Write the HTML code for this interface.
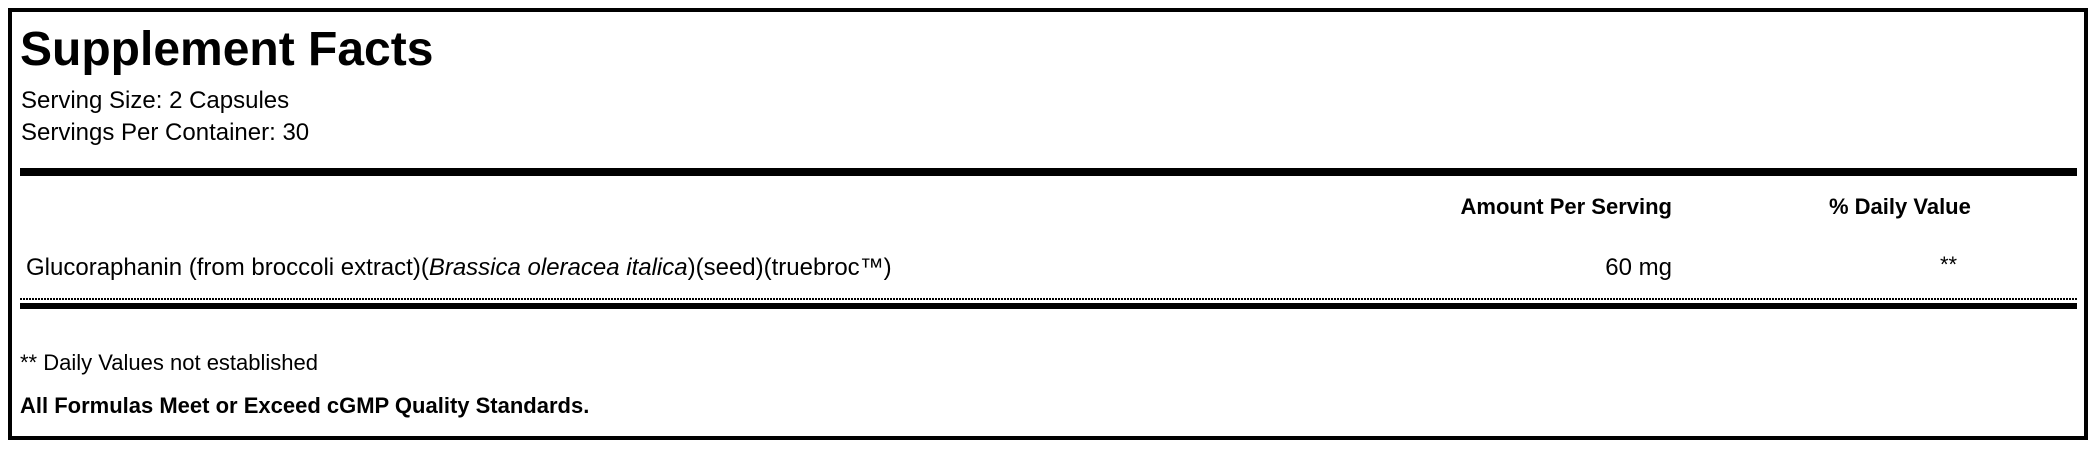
<!DOCTYPE html>
<html><head><meta charset="utf-8"><style>
html,body{margin:0;padding:0;background:#fff;}
body{width:2098px;height:454px;position:relative;overflow:hidden;font-family:"Liberation Sans",Arial,sans-serif;color:#000;}
div{position:absolute;white-space:nowrap;}
</style></head><body>
<div style="left:8px;top:8px;width:2072px;height:424px;border:4px solid #000;"></div>
<div style="left:20px;top:26px;font-size:48px;font-weight:bold;line-height:48px;">Supplement Facts</div>
<div style="left:21px;top:89px;font-size:24px;line-height:24px;">Serving Size: 2 Capsules</div>
<div style="left:21px;top:121px;font-size:24px;line-height:24px;">Servings Per Container: 30</div>
<div style="left:20px;top:168px;width:2057px;height:8px;background:#000;"></div>
<div style="left:1400px;width:272px;text-align:right;top:196px;font-size:22px;line-height:22px;font-weight:bold;">Amount Per Serving</div>
<div style="left:1829px;top:196px;font-size:22px;line-height:22px;font-weight:bold;">% Daily Value</div>
<div style="left:26px;top:256px;font-size:24px;line-height:24px;">Glucoraphanin (from broccoli extract)(<i>Brassica oleracea italica</i>)(seed)(truebroc™)</div>
<div style="left:1500px;width:172px;text-align:right;top:256px;font-size:24px;line-height:24px;">60 mg</div>
<div style="left:1940px;top:254px;font-size:22px;line-height:22px;">**</div>
<div style="left:20px;top:298px;width:2057px;height:2px;background:repeating-linear-gradient(90deg,#000 0 2px,transparent 2px 3px);"></div>
<div style="left:20px;top:303px;width:2057px;height:6px;background:#000;"></div>
<div style="left:20px;top:352px;font-size:22px;line-height:22px;">** Daily Values not established</div>
<div style="left:20px;top:395px;font-size:22px;line-height:22px;font-weight:bold;">All Formulas Meet or Exceed cGMP Quality Standards.</div>
</body></html>
